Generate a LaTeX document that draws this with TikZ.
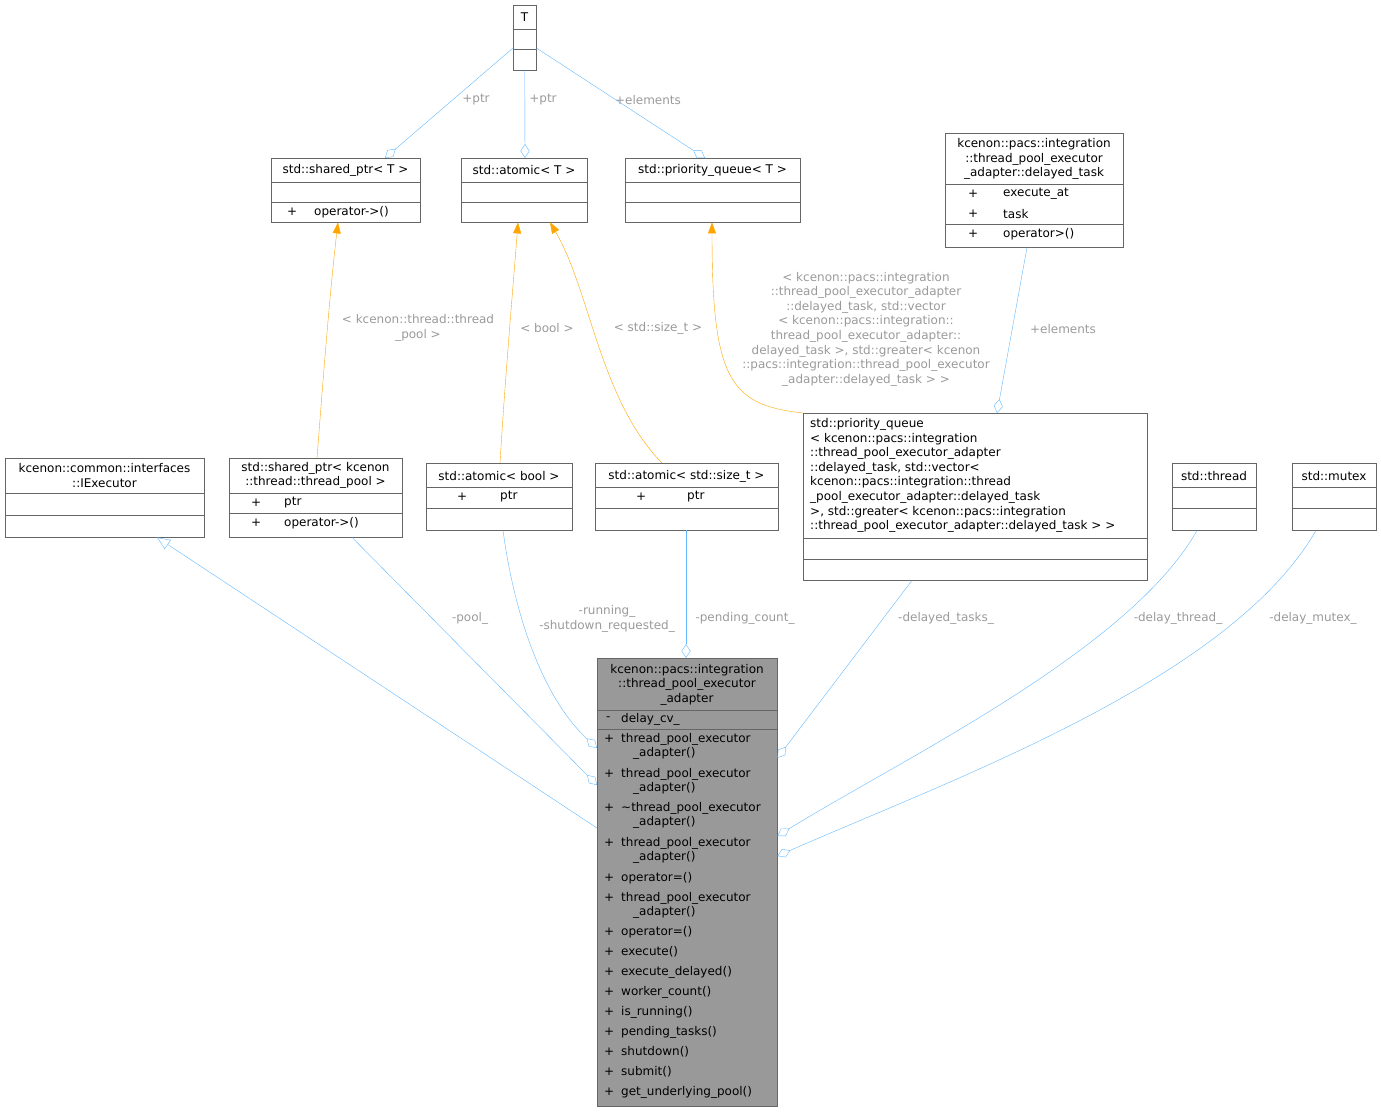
\documentclass[tikz,border=0pt]{standalone}
\usepackage{fontspec}
\setmainfont{DejaVu Sans}
\usepackage{tikz}
\usetikzlibrary{arrows.meta}
\definecolor{edgeblue}{HTML}{63B8FF}
\definecolor{tplorange}{HTML}{FFA500}
\definecolor{boxgray}{HTML}{666666}
\definecolor{lblgray}{HTML}{9A9A9A}
\definecolor{mainfill}{HTML}{999999}

\begin{document}
\begin{tikzpicture}[
    x=1pt, y=-1pt,
    font=\fontsize{12}{14.6}\selectfont,
    box/.style={draw=boxgray, fill=white, inner sep=0pt, anchor=north west}, % Caja de clase
    sep/.style={draw=boxgray},
    mem/.style={anchor=west, inner sep=0pt},
    ttl/.style={align=center, inner sep=0pt},
    uses/.style={draw=edgeblue, -{Diamond[open, length=14pt, width=9pt]}},
    inherits/.style={draw=edgeblue, -{Triangle[open, length=13pt, width=11pt]}},
    tpl/.style={draw=tplorange, -{Triangle[length=11pt, width=8pt]}},
    elbl/.style={text=lblgray, align=center, inner sep=1pt},
]
\useasboundingbox (0,0) rectangle (1381,1112);

% --- T ---
\node[box, minimum width=23pt, minimum height=65pt] (T) at (513,5) {};
\draw[sep] (513,29) -- (536,29) (513,49) -- (536,49);
\node[ttl] at (524.5,17) {T};

% --- std::shared_ptr< T > ---
\node[box, minimum width=149pt, minimum height=64pt] (spT) at (271,158) {};
\draw[sep] (271,182) -- (420,182) (271,202) -- (420,202);
\node[ttl] at (345.5,170) {std::shared\_ptr< T >};
\node[mem] at (287,212) {+}; \node[mem] at (314,212) {operator->()};

% --- std::atomic< T > ---
\node[box, minimum width=126pt, minimum height=64pt] (atT) at (461,158) {};
\draw[sep] (461,182) -- (587,182) (461,202) -- (587,202);
\node[ttl] at (524,170) {std::atomic< T >};

% --- std::priority_queue< T > ---
\node[box, minimum width=175pt, minimum height=64pt] (pqT) at (625,158) {};
\draw[sep] (625,182) -- (800,182) (625,202) -- (800,202);
\node[ttl] at (712.5,170) {std::priority\_queue< T >};

% --- delayed_task ---
\node[box, minimum width=178pt, minimum height=114pt] (dtask) at (945,133) {};
\draw[sep] (945,184) -- (1123,184) (945,224) -- (1123,224);
\node[ttl] at (1034,159) {kcenon::pacs::integration\\::thread\_pool\_executor\\\_adapter::delayed\_task};
\node[mem] at (968,194) {+}; \node[mem] at (1003,194) {execute\_at};
\node[mem] at (968,214) {+}; \node[mem] at (1003,214) {task};
\node[mem] at (968,234) {+}; \node[mem] at (1003,234) {operator>()};

% --- IExecutor ---
\node[box, minimum width=199pt, minimum height=79pt] (iexec) at (5,458) {};
\draw[sep] (5,493) -- (204,493) (5,515) -- (204,515);
\node[ttl] at (104.5,475.5) {kcenon::common::interfaces\\::IExecutor};

% --- std::shared_ptr< thread_pool > ---
\node[box, minimum width=173pt, minimum height=79pt] (sptp) at (229,458) {};
\draw[sep] (229,493) -- (402,493) (229,513) -- (402,513);
\node[ttl] at (315.5,475.5) {std::shared\_ptr< kcenon\\::thread::thread\_pool >};
\node[mem] at (251,503) {+}; \node[mem] at (284,503) {ptr};
\node[mem] at (251,523) {+}; \node[mem] at (284,523) {operator->()};

% --- std::atomic< bool > ---
\node[box, minimum width=146pt, minimum height=67pt] (atbool) at (426,463) {};
\draw[sep] (426,487) -- (572,487) (426,508) -- (572,508);
\node[ttl] at (499,476) {std::atomic< bool >};
\node[mem] at (457,497) {+}; \node[mem] at (500,497) {ptr};

% --- std::atomic< std::size_t > ---
\node[box, minimum width=183pt, minimum height=67pt] (atsize) at (595,463) {};
\draw[sep] (595,487) -- (778,487) (595,508) -- (778,508);
\node[ttl] at (686.5,476) {std::atomic< std::size\_t >};
\node[mem] at (636,497) {+}; \node[mem] at (687,497) {ptr};

% --- std::priority_queue (delayed_task) ---
\node[box, minimum width=344pt, minimum height=167pt] (pqtask) at (803,413) {};
\draw[sep] (803,538) -- (1147,538) (803,559) -- (1147,559);
\node[inner sep=0pt, align=left, anchor=west] at (810,475.5) {std::priority\_queue\\< kcenon::pacs::integration\\::thread\_pool\_executor\_adapter\\::delayed\_task, std::vector<\\ kcenon::pacs::integration::thread\\\_pool\_executor\_adapter::delayed\_task\\ >, std::greater< kcenon::pacs::integration\\::thread\_pool\_executor\_adapter::delayed\_task > >};

% --- std::thread, std::mutex ---
\node[box, minimum width=84pt, minimum height=67pt] (thr) at (1172,463) {};
\draw[sep] (1172,487) -- (1256,487) (1172,508) -- (1256,508);
\node[ttl] at (1214,476) {std::thread};
\node[box, minimum width=84pt, minimum height=67pt] (mtx) at (1292,463) {};
\draw[sep] (1292,487) -- (1376,487) (1292,508) -- (1376,508);
\node[ttl] at (1334,476) {std::mutex};

% --- Clase principal ---
\node[box, fill=mainfill, minimum width=180pt, minimum height=448pt] (main) at (597,658) {};
\draw[sep] (597,710) -- (777,710) (597,729) -- (777,729);
\node[ttl] at (687,684.5) {kcenon::pacs::integration\\::thread\_pool\_executor\\\_adapter};
\node[mem] at (606,719) {-}; \node[mem] at (621,719) {delay\_cv\_};
\foreach \y/\txt in {739/thread\_pool\_executor, 774/thread\_pool\_executor, 808/\textasciitilde thread\_pool\_executor,
    843/thread\_pool\_executor, 878/operator=(), 898/thread\_pool\_executor, 932/operator=(), 952/execute(),
    972/execute\_delayed(), 992/worker\_count(), 1012/is\_running(), 1032/pending\_tasks(), 1052/shutdown(),
    1072/submit(), 1092/get\_underlying\_pool()}
    {\node[mem] at (604,\y) {+}; \node[mem] at (621,\y) {\txt};}
\foreach \y in {753,788,822,857,912}
    \node[mem] at (633,\y) {\_adapter()};

% --- Conexiones desde T ---
\draw[uses] (T.west |- 0,48) -- (spT.north -| 385,0);
\draw[uses] (T.south) -- (atT.north -| 525,0);
\draw[uses] (T.east |- 0,48) -- (pqT.north -| 705,0);
\node[elbl] at (476,100) {+ptr};
\node[elbl] at (543,100) {+ptr};
\node[elbl] at (648,100) {+elements};

% --- Instancias de plantilla ---
\draw[tpl] (sptp.north -| 317,0) .. controls (323,380) and (330,290) .. (spT.south -| 338,0);
\draw[tpl] (atbool.north -| 500,0) .. controls (505,380) and (512,300) .. (atT.south -| 518,0);
\draw[tpl] (atsize.north -| 662,0) .. controls (600,400) and (590,290) .. (atT.south -| 550,0);
\draw[tpl] (pqtask.north west) .. controls (730,405) and (712,380) .. (pqT.south -| 712,0);
\node[elbl] at (418,328) {< kcenon::thread::thread\\\_pool >};
\node[elbl] at (547,328) {< bool >};
\node[elbl] at (658,328) {< std::size\_t >};
\node[elbl] at (866,329) {< kcenon::pacs::integration\\::thread\_pool\_executor\_adapter\\::delayed\_task, std::vector\\< kcenon::pacs::integration::\\thread\_pool\_executor\_adapter::\\delayed\_task >, std::greater< kcenon\\::pacs::integration::thread\_pool\_executor\\\_adapter::delayed\_task > >};

\draw[uses] (dtask.south -| 1027,0) -- (pqtask.north -| 997,0);
\node[elbl] at (1063,329) {+elements};

% --- Miembros de la clase principal ---
\draw[inherits] (main.west |- 0,828) -- (iexec.south -| 157,0);
\draw[uses] (sptp.south -| 352,0) -- (main.west |- 0,785);
\draw[uses] (atbool.south -| 503,0) .. controls (515,620) and (545,700) .. (main.west |- 0,748);
\draw[uses] (atsize.south -| 686,0) -- (main.north -| 686,0);
\draw[uses] (pqtask.south -| 912,0) -- (main.east |- 0,758);
\draw[uses] (thr.south -| 1197,0) .. controls (1130,650) and (900,760) .. (main.east |- 0,836);
\draw[uses] (mtx.south -| 1316,0) .. controls (1230,680) and (950,780) .. (main.east |- 0,856);
\node[elbl] at (470,618) {-pool\_};
\node[elbl] at (607,619) {-running\_\\-shutdown\_requested\_};
\node[elbl] at (745,618) {-pending\_count\_};
\node[elbl] at (946,618) {-delayed\_tasks\_};
\node[elbl] at (1178,618) {-delay\_thread\_};
\node[elbl] at (1313,618) {-delay\_mutex\_};

\end{tikzpicture}
\end{document}
